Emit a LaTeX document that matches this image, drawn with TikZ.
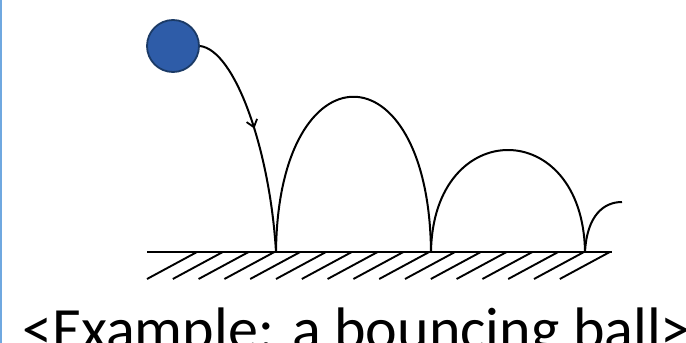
\documentclass[tikz,border=0pt]{standalone}
\usepackage{fontspec}
\setmainfont{Carlito}
\usetikzlibrary{arrows.meta, decorations.markings}
\definecolor{ballblue}{HTML}{2E5CA8}
\definecolor{balledge}{HTML}{1B3A66}
\definecolor{edgeblue}{HTML}{6FA8E0}

\begin{document}
\begin{tikzpicture}[x=1pt, y=-1pt,
  ball/.style={circle, draw=balledge, fill=ballblue, line width=1.8pt,
               minimum size=52pt, inner sep=0pt},
  trace/.style={line width=2pt, black},
  hatch/.style={line width=1.9pt, black},
  midarrow/.style={postaction={decorate}, decoration={markings,
      mark=at position #1 with {\arrow{Straight Barb[length=7pt, width=11pt, line width=1.8pt]}}}},
  caption/.style={anchor=base west, inner sep=0pt, font=\fontsize{60}{64}\selectfont}]
  \useasboundingbox (0,0) rectangle (686,343);
  \clip (0,0) rectangle (686,343);
  \draw[edgeblue, line width=2pt] (1,0) -- (1,343);
  \node[ball] (ball) at (173,46) {};
  \coordinate (hit1) at (276,252);
  \coordinate (hit2) at (431,252);
  \coordinate (hit3) at (585,252);
  \coordinate (last) at (622,202);
  \coordinate (gl) at (147,252);
  \coordinate (gr) at (612,252);
  % ground
  \draw[trace] (gl) -- (gr);
  \foreach \i in {0,...,16}
    \draw[hatch] (147+25.8*\i,279) -- ++(50,-27);
  % bounces
  \draw[trace, midarrow=0.45] (ball.east) .. controls (235,50) and (270,150) .. (hit1);
  \draw[trace] (hit1) .. controls (278,45) and (429,45) .. (hit2);
  \draw[trace] (hit2) .. controls (433,116) and (583,116) .. (hit3);
  \draw[trace] (hit3) .. controls (587,215) and (604,202) .. (last);
  \node[caption] (label) at (22,349) {<Example: a bouncing ball>};
\end{tikzpicture}
\end{document}
